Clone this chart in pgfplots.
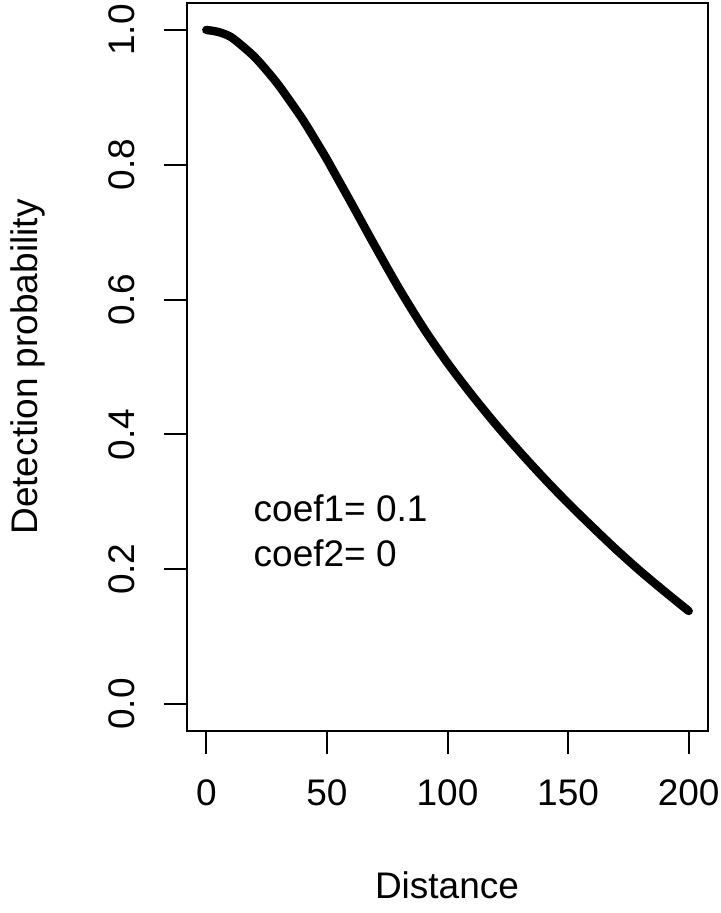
\documentclass[border=0pt]{standalone}
\usepackage{fontspec}
\setmainfont{Liberation Sans}
\usepackage{pgfplots}
\pgfplotsset{compat=1.18}
\begin{document}
\begin{tikzpicture}
\useasboundingbox (0,0) rectangle (360pt,456.5pt);
\begin{axis}[
  at={(93.5pt,91pt)}, anchor=south west,
  scale only axis, width=260.5pt, height=364pt,
  xmin=-8, xmax=208, ymin=-0.04, ymax=1.04,
  xtick={0,50,100,150,200}, ytick={0,0.2,0.4,0.6,0.8,1},
  axis line style={line width=1pt},
  every tick/.style={black, line width=1pt},
  tick align=outside, major tick length=11.5pt,
  xtick pos=bottom, ytick pos=left,
  /pgf/number format/assume math mode=true,
  ticklabel style={font=\fontsize{18.5}{22}\selectfont},
  yticklabel style={rotate=90, anchor=center, inner sep=0pt,
     /pgf/number format/.cd, fixed, fixed zerofill, precision=1},
  xticklabel style={anchor=center, inner sep=0pt},
  xticklabel shift=19.5pt, yticklabel shift=21pt,
  xlabel={Distance}, ylabel={Detection probability},
  every axis x label/.style={at={(axis description cs:0.499,-0.2115)}, anchor=center, font=\fontsize{18.5}{22}\selectfont},
  every axis y label/.style={at={(axis description cs:-0.305,0.5)}, anchor=center, rotate=90, font=\fontsize{18.5}{22}\selectfont},
  clip=false,
]
\addplot[black, line width=4.2pt, line cap=round, line join=round, smooth] coordinates {
(0,1.000) (5,0.997) (10,0.990) (15,0.976) (20,0.960) (25,0.940) (30,0.918)
(35,0.893) (40,0.867) (45,0.838) (50,0.808) (55,0.776) (60,0.744)
(70,0.679) (80,0.616) (90,0.558) (100,0.506) (110,0.459) (120,0.415)
(130,0.374) (140,0.335) (150,0.298) (160,0.263) (170,0.229) (180,0.197)
(190,0.167) (200,0.138)
};
\node[anchor=west, inner sep=0pt, font=\fontsize{18.5}{22}\selectfont] at (axis cs:19.5,0.291) {coef1= 0.1};
\node[anchor=west, inner sep=0pt, font=\fontsize{18.5}{22}\selectfont] at (axis cs:19.5,0.224) {coef2= 0};
\end{axis}
\end{tikzpicture}
\end{document}
